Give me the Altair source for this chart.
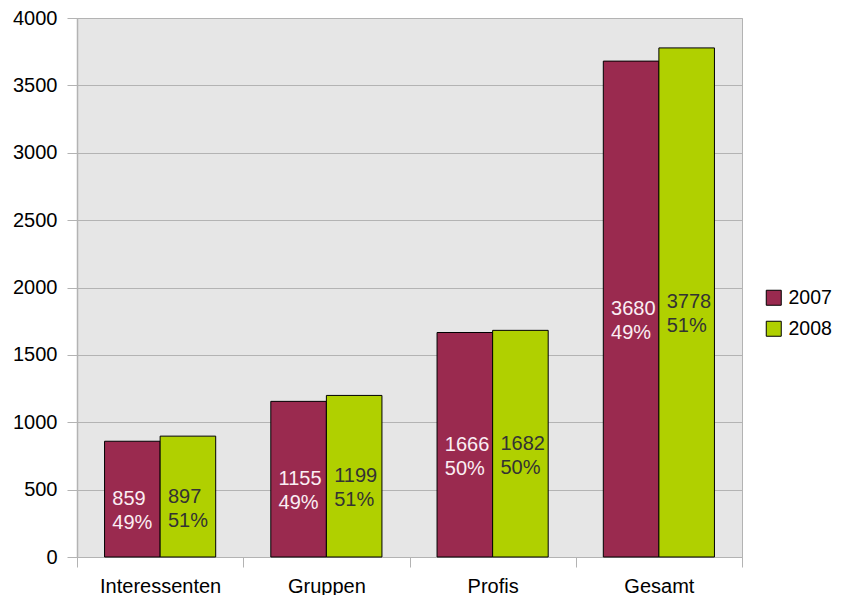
import altair as alt
import pandas as pd

categories = ["Interessenten", "Gruppen", "Profis", "Gesamt"]
years = ["2007", "2008"]
values_2007 = [859, 1155, 1666, 3680]
values_2008 = [897, 1199, 1682, 3778]
share_2007 = ["49%", "49%", "50%", "49%"]
share_2008 = ["51%", "51%", "50%", "51%"]
y_ticks = [0, 500, 1000, 1500, 2000, 2500, 3000, 3500, 4000]

rows = []
for i, c in enumerate(categories):
    rows.append(dict(cat=c, year=years[0], value=values_2007[i], share=share_2007[i]))
    rows.append(dict(cat=c, year=years[1], value=values_2008[i], share=share_2008[i]))
df = pd.DataFrame(rows)
df["label"] = df["value"].astype(str) + "\n" + df["share"]

FONT = "Arial, Liberation Sans, sans-serif"
GRID = "#b3b3b3"
FS = 20

x = alt.X(
    "cat:N", sort=categories,
    scale=alt.Scale(paddingInner=0, paddingOuter=0),
    axis=alt.Axis(title=None, labelAngle=0, tickBand="extent", grid=False,
                  tickSize=10, tickColor=GRID, domainColor=GRID,
                  labelFontSize=FS, labelFont=FONT, labelColor="#000000",
                  labelPadding=9),
)
xo = alt.XOffset("year:N", sort=years,
                 scale=alt.Scale(paddingInner=0, paddingOuter=0.496))
y_axis = alt.Axis(title=None, values=y_ticks, format="d", grid=True, gridColor=GRID,
                  tickSize=10, tickColor=GRID, domainColor=GRID, domainWidth=1.5,
                  labelFontSize=FS, labelFont=FONT, labelColor="#000000",
                  labelPadding=10)
yscale = alt.Scale(domain=[0, 4000], nice=False)

bars = alt.Chart(df).mark_bar(stroke="black", strokeWidth=1).encode(
    x=x, xOffset=xo,
    y=alt.Y("value:Q", scale=yscale, axis=y_axis),
    fill=alt.Fill("year:N", sort=years,
                  scale=alt.Scale(domain=years, range=["#9a2a4f", "#b0d000"]),
                  legend=alt.Legend(title=None, orient="none", legendX=687, legendY=270,
                                    symbolType="square", symbolSize=225,
                                    symbolStrokeColor="black", symbolStrokeWidth=1,
                                    labelFontSize=19.5, labelFont=FONT, labelColor="#000000",
                                    labelOffset=5, rowPadding=10, padding=0)),
)

def label_layer(year, color):
    return alt.Chart(df).transform_filter(
        alt.datum.year == year
    ).transform_calculate(mid="datum.value / 2").mark_text(
        align="left", baseline="middle", dx=-20, fontSize=FS, font=FONT,
        lineHeight=24, lineBreak="\n", color=color,
    ).encode(
        x=x, xOffset=xo,
        y=alt.Y("mid:Q", scale=yscale, axis=y_axis),
        text="label:N",
    )

chart = alt.layer(bars, label_layer("2007", "#fbeef3"), label_layer("2008", "#333333")).properties(
    width=665, height=539,
    autosize=alt.AutoSizeParams(type="none"),
    padding={"left": 69, "top": 10, "right": 93, "bottom": 38},
).configure_view(fill="#e6e6e6", stroke=GRID, strokeWidth=1)

chart.save("out.html", embed_options={"renderer": "svg", "actions": False})
